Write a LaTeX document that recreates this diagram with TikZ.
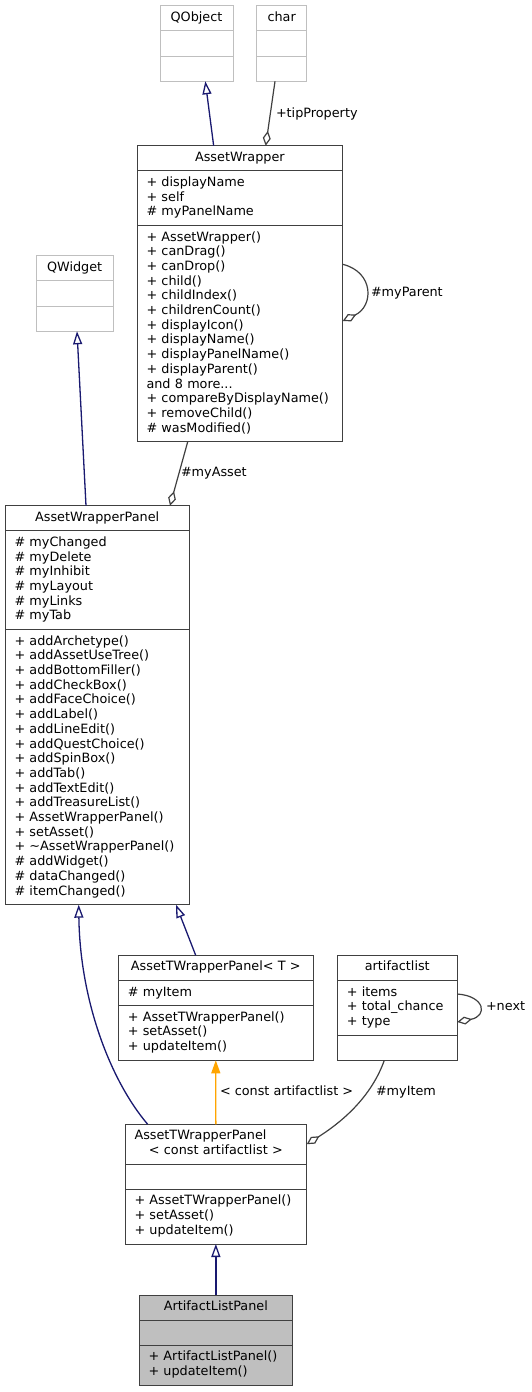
\documentclass[tikz,border=0pt]{standalone}
\usepackage{fontspec}
\setmainfont{DejaVu Sans}
\usepackage{tikz}
\usetikzlibrary{arrows.meta,positioning}

\definecolor{vora}{HTML}{404040}
\definecolor{extern}{HTML}{BFBFBF}
\definecolor{blau}{HTML}{191970}
\definecolor{gris}{HTML}{404040}
\definecolor{taronja}{HTML}{FFA500}

\begin{document}
\begin{tikzpicture}[
    x=1pt, y=-1pt,
    every node/.style={font=\fontsize{12.8}{14.7}\selectfont, inner sep=0pt, outer sep=0pt},
    titol/.style={draw=vora, line width=1pt, anchor=north west, inner xsep=9.5pt, inner ysep=5.25pt,
        align=center, execute at begin node=\strut, execute at end node=\strut},
    seccio/.style={draw=vora, line width=1pt, inner xsep=9.5pt, inner ysep=5.25pt,
        align=left, execute at begin node=\strut, execute at end node=\strut},
    etiqueta/.style={anchor=west, execute at begin node=\strut},
    herencia/.style={draw=blau, line width=1.3pt, -{Triangle[open, length=13pt, width=9pt]}},
    plantilla/.style={draw=taronja, line width=1.3pt, -{Triangle[length=13pt, width=9pt]}},
    us/.style={draw=gris, line width=1.2pt, {Diamond[open, length=15pt, width=8pt]}-}
]

\path[use as bounding box, fill=white] (0,0) rectangle (532,1392);

% Classes de Qt

\node[titol, draw=extern, text width=54pt] (qoT) at (160,5.7) {QObject};
\node[seccio, draw=extern, text width=54pt, below=0pt of qoT] (qoA) {};
\node[seccio, draw=extern, text width=54pt, below=0pt of qoA] (qoM) {};

\node[titol, draw=extern, text width=31pt] (chT) at (256.7,5.7) {char};
\node[seccio, draw=extern, text width=31pt, below=0pt of chT] (chA) {};
\node[seccio, draw=extern, text width=31pt, below=0pt of chA] (chM) {};

\node[titol, draw=extern, text width=58.3pt] (qwT) at (36,255.7) {QWidget};
\node[seccio, draw=extern, text width=58.3pt, below=0pt of qwT] (qwA) {};
\node[seccio, draw=extern, text width=58.3pt, below=0pt of qwA] (qwM) {};

% AssetWrapper

\node[titol, text width=186.7pt] (awT) at (137,145.7) {AssetWrapper};
\node[seccio, text width=186.7pt, below=0pt of awT] (awA) {+ displayName\\+ self\\\# myPanelName};
\node[seccio, text width=186.7pt, below=0pt of awA] (awM) {+ AssetWrapper()\\+ canDrag()\\+ canDrop()\\+ child()\\+ childIndex()\\+ childrenCount()\\+ displayIcon()\\+ displayName()\\+ displayPanelName()\\+ displayParent()\\and 8 more...\\+ compareByDisplayName()\\+ removeChild()\\\# wasModified()};

% AssetWrapperPanel

\node[titol, text width=165.3pt] (awpT) at (5,505.7) {AssetWrapperPanel};
\node[seccio, text width=165.3pt, below=0pt of awpT] (awpA) {\# myChanged\\\# myDelete\\\# myInhibit\\\# myLayout\\\# myLinks\\\# myTab};
\node[seccio, text width=165.3pt, below=0pt of awpA] (awpM) {+ addArchetype()\\+ addAssetUseTree()\\+ addBottomFiller()\\+ addCheckBox()\\+ addFaceChoice()\\+ addLabel()\\+ addLineEdit()\\+ addQuestChoice()\\+ addSpinBox()\\+ addTab()\\+ addTextEdit()\\+ addTreasureList()\\+ AssetWrapperPanel()\\+ setAsset()\\+ \textasciitilde AssetWrapperPanel()\\\# addWidget()\\\# dataChanged()\\\# itemChanged()};

% Plantilla i artifactlist

\node[titol, text width=176pt] (tT) at (118.3,955.3) {AssetTWrapperPanel< T >};
\node[seccio, text width=176pt, below=0pt of tT] (tA) {\# myItem};
\node[seccio, text width=176pt, below=0pt of tA] (tM) {+ AssetTWrapperPanel()\\+ setAsset()\\+ updateItem()};

\node[titol, text width=101pt] (alT) at (337.3,955.3) {artifactlist};
\node[seccio, text width=101pt, below=0pt of alT] (alA) {+ items\\+ total\_chance\\+ type};
\node[seccio, text width=101pt, below=0pt of alA] (alM) {};

\node[titol, text width=162.7pt] (cT) at (125,1124.3) {\makebox[\linewidth][l]{AssetTWrapperPanel}\\< const artifactlist >};
\node[seccio, text width=162.7pt, below=0pt of cT] (cA) {};
\node[seccio, text width=162.7pt, below=0pt of cA] (cM) {+ AssetTWrapperPanel()\\+ setAsset()\\+ updateItem()};

% ArtifactListPanel

\node[titol, fill=extern, text width=134.7pt] (pT) at (139,1295) {ArtifactListPanel};
\node[seccio, fill=extern, text width=134.7pt, below=0pt of pT] (pA) {};
\node[seccio, fill=extern, text width=134.7pt, below=0pt of pA] (pM) {+ ArtifactListPanel()\\+ updateItem()};

% Herència

\draw[herencia] ([xshift=-26.2pt]awT.north) -- ([xshift=8.8pt]qoM.south);

\draw[herencia] ([xshift=-11.15pt]awpT.north) -- ([xshift=2.35pt]qwM.south);

\draw[herencia] ([xshift=-20.1pt]tT.north) -- ([xshift=78.85pt]awpM.south);

\draw[herencia] ([xshift=-68.15pt]cT.north) .. controls (110,1080) and (80,1000) .. ([xshift=-18.45pt]awpM.south);

\draw[herencia] (pT.north) -- (cM.south);

\draw[plantilla] (cT.north) -- (tM.south);

% Membres

\draw[us] ([xshift=25.85pt]awT.north) -- ([xshift=-6.7pt]chM.south);

\draw[us] ([yshift=-95.5pt]awM.north east) .. controls (374,306) and (374,272) .. ([yshift=-38.8pt]awM.north east);

\draw[us] ([xshift=72.85pt]awpT.north) -- ([xshift=-52.15pt]awM.south);

\draw[us] ([yshift=-41.5pt]alA.north east) .. controls (488,1016) and (485,996) .. ([yshift=-13.5pt]alA.north east);

\draw[us] (cT.east) .. controls (345,1120) and (372,1095) .. ([xshift=-13pt]alM.south);

% Etiquetes

\node[etiqueta] (lTip) at (276,114.5) {+tipProperty};

\node[etiqueta] (lParent) at (371,293.5) {\#myParent};

\node[etiqueta] (lAsset) at (181,474) {\#myAsset};

\node[etiqueta] (lConst) at (220,1092.5) {< const artifactlist >};

\node[etiqueta] (lItem) at (376,1092.5) {\#myItem};

\node[etiqueta] (lNext) at (486,1008) {+next};

\end{tikzpicture}
\end{document}
